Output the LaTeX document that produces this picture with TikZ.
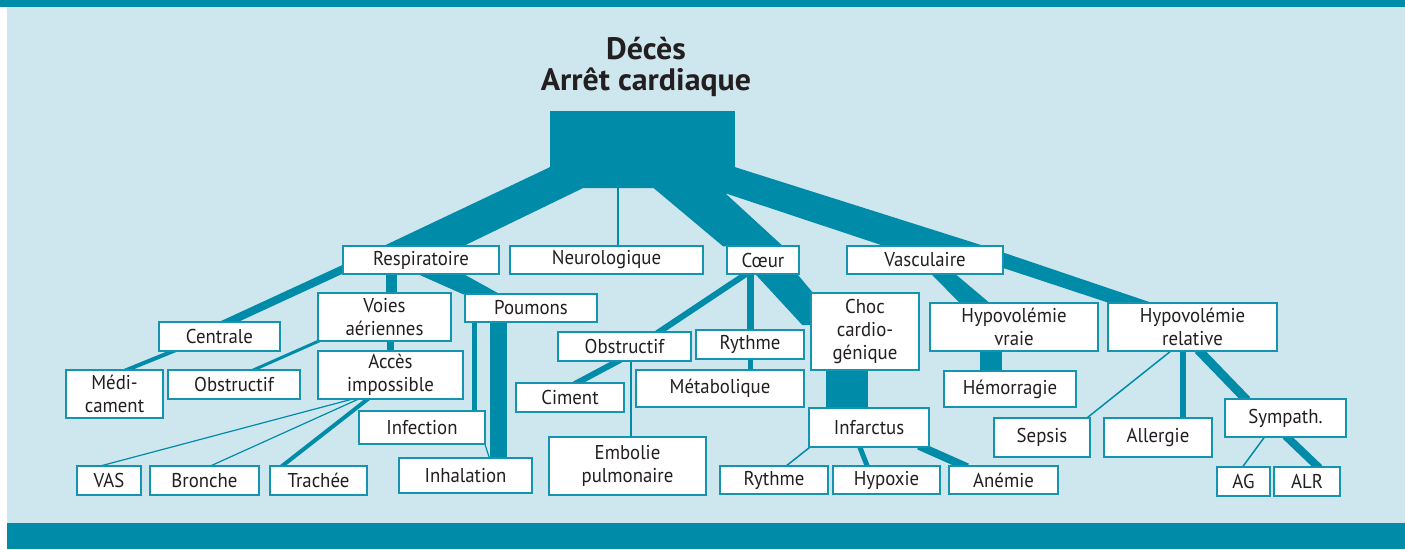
\documentclass[tikz,border=0pt]{standalone}
\usepackage{fontspec}
\setmainfont{PT Sans}[FakeStretch=0.94]
\newfontfamily\titlefont{PT Sans}[FakeStretch=1.03]
\definecolor{tl}{RGB}{0,139,168}
\definecolor{lightbg}{RGB}{206,230,238}
\definecolor{boxc}{RGB}{20,148,176}
\definecolor{textc}{RGB}{35,31,32}
\pgfdeclarelayer{back}\pgfdeclarelayer{bg}
\pgfsetlayers{back,bg,main}
\tikzset{
  box/.style={draw=boxc,line width=1.5pt,fill=white,inner sep=0pt,align=center,text=textc,font=\fontsize{20}{23}\selectfont},
  ln/.style={draw=tl,line width=#1},
  band/.style={fill=tl},
  ttl/.style={align=center,text=textc,font=\titlefont\bfseries\fontsize{31}{31}\selectfont,inner sep=0pt}
}
\newcommand\bx[6]{\node[box,minimum width={(#4-#2)*1pt},minimum height={(#5-#3)*1pt}] (#1) at ({(#2+#4)/2},{(#3+#5)/2}) {#6};}
\begin{document}
\begin{tikzpicture}[x=1pt,y=-1pt]
\useasboundingbox (0,0) rectangle (1405,549);
\begin{pgfonlayer}{back}
\fill[white] (0,0) rectangle (1405,549);
\fill[lightbg] (7,7) rectangle (1405,523);
\fill[tl] (0,0) rectangle (1405,7);
\fill[tl] (7,523) rectangle (1405,549);
\end{pgfonlayer}
% title
\node[ttl] (title) at (646,67) {Décès\\Arrêt cardiaque};
% root block
\node[fill=tl,inner sep=0pt,minimum width=185pt,minimum height=77pt] (root) at (642.5,149.5) {};
% boxes
\bx{resp}{343}{246}{499}{274}{Respiratoire}
\bx{neuro}{510}{246}{703}{274}{Neurologique}
\bx{coeur}{727}{246}{799}{274}{Cœur}
\bx{vasc}{847}{246}{1003}{274}{Vasculaire}
\bx{centrale}{159}{322}{280}{351}{Centrale}
\bx{voies}{318}{293}{451}{341}{Voies\\aériennes}
\bx{poumons}{465}{294}{597}{322}{Poumons}
\bx{medic}{66}{370}{163}{418}{Médi-\\cament}
\bx{obsL}{168}{370}{300}{399}{Obstructif}
\bx{acces}{318}{351}{463}{399}{Accès\\impossible}
\bx{infection}{359}{411}{485}{444}{Infection}
\bx{inhal}{399}{458}{532}{493}{Inhalation}
\bx{vas}{77}{466}{141}{495}{VAS}
\bx{bronche}{150}{466}{259}{495}{Bronche}
\bx{trachee}{270}{466}{367}{495}{Trachée}
\bx{obsC}{558}{332}{691}{361}{Obstructif}
\bx{rythme1}{696}{330}{804}{359}{Rythme}
\bx{metab}{636}{370}{804}{407}{Métabolique}
\bx{ciment}{516}{383}{624}{412}{Ciment}
\bx{embolie}{549}{437}{706}{495}{Embolie\\pulmonaire}
\bx{choc}{811}{293}{919}{370}{Choc\\cardio-\\génique}
\bx{infarctus}{809}{408}{929}{447}{Infarctus}
\bx{rythme2}{720}{466}{828}{494}{Rythme}
\bx{hypoxie}{833}{466}{940}{494}{Hypoxie}
\bx{anemie}{949}{466}{1058}{494}{Anémie}
\bx{hvraie}{930}{303}{1098}{351}{Hypovolémie\\vraie}
\bx{hemo}{944}{371}{1076}{407}{Hémorragie}
\bx{sepsis}{994}{418}{1090}{457}{Sepsis}
\bx{hrel}{1108}{303}{1277}{351}{Hypovolémie\\relative}
\bx{allergie}{1104}{418}{1212}{457}{Allergie}
\bx{sympath}{1225}{399}{1346}{437}{Sympath.}
\bx{ag}{1217}{467}{1270}{496}{AG}
\bx{alr}{1274}{467}{1340}{496}{ALR}
\begin{pgfonlayer}{bg}
% main fan from root
\fill[band] ([shift={(0,-21)}]root.south west)
  -- ([shift={(-38,1)}]resp.north) -- ([shift={(42,1)}]resp.north)
  -- ([shift={(33,0)}]root.south west) -- ([shift={(104,0)}]root.south west)
  -- ([shift={(-40,1)}]coeur.north) -- ([shift={(20,1)}]coeur.north)
  -- ([shift={(-10,5)}]root.south east)
  -- ([shift={(-40,1)}]vasc.north) -- ([shift={(60,1)}]vasc.north)
  -- ([shift={(0,-21)}]root.south east) -- cycle;
\draw[ln=2pt] ([shift={(-24.5,-2)}]root.south) -- ([shift={(11.5,1)}]neuro.north);
% respiratoire
\draw[ln=8pt] ([shift={(7.6,6)}]resp.west) -- ([shift={(1.9,4)}]centrale.north);
\draw[ln=4pt] ([shift={(-40.6,-3)}]centrale.south) -- ([shift={(6.6,3)}]medic.north);
\draw[ln=11pt] ([shift={(-29.5,-2)}]resp.south) -- ([shift={(7,2)}]voies.north);
\draw[ln=3pt] ([shift={(4.5,-2)}]voies.south west) -- ([shift={(16.5,2)}]obsL.north);
\draw[ln=7pt] ([shift={(6,-2)}]voies.south) -- ([shift={(0,2)}]acces.north);
\draw[ln=1.2pt] ([shift={(-36.8,-1)}]acces.south) -- ([shift={(-9.7,1)}]vas.north);
\draw[ln=1.2pt] ([shift={(-31.3,-1)}]acces.south) -- ([shift={(5.3,1)}]bronche.north);
\draw[ln=4pt] ([shift={(-21,-2)}]acces.south) -- ([shift={(-38,2)}]trachee.north);
\fill[band] ([shift={(-4,-1)}]resp.south) -- ([shift={(42,-1)}]resp.south)
  -- ([shift={(-31,1)}]poumons.north) -- ([shift={(-68,1)}]poumons.north) -- cycle;
\draw[ln=5pt] ([shift={(-56.5,-2)}]poumons.south) -- ([shift={(52.5,2)}]infection.north);
\draw[ln=17pt] ([shift={(-32.5,-2)}]poumons.south) -- ([shift={(33,2)}]inhal.north);
\draw[ln=1.2pt] ([shift={(-1,-1)}]infection.south east) -- ([shift={(24,1)}]inhal.north);
% coeur
\draw[ln=6pt] ([shift={(-15.1,-2)}]coeur.south) -- ([shift={(32.6,2)}]obsC.north);
\draw[ln=7pt] ([shift={(-12.5,-2)}]coeur.south) -- ([shift={(0.5,2)}]rythme1.north);
\fill[band] ([shift={(-8,-1)}]coeur.south) -- ([shift={(34,-1)}]coeur.south)
  -- ([shift={(2,-39.5)}]choc.west) -- ([shift={(2,-6.5)}]choc.west)
  -- ([shift={(-8,-6.5)}]choc.west) -- cycle;
\draw[ln=5pt] ([shift={(0.5,-2)}]rythme1.south) -- ([shift={(30.5,2)}]metab.north);
\draw[ln=6pt] ([shift={(-4,-2)}]obsC.south) -- ([shift={(4.5,2)}]ciment.north);
\draw[ln=1.5pt] ([shift={(6.5,-1)}]obsC.south) -- ([shift={(3.5,1)}]embolie.north);
\draw[ln=42pt] ([shift={(-18,-2)}]choc.south) -- ([shift={(-22,2)}]infarctus.north);
\draw[ln=1.5pt] ([shift={(2.2,-1)}]infarctus.south west) -- ([shift={(11.8,1)}]rythme2.north);
\draw[ln=5pt] ([shift={(-9.7,-2)}]infarctus.south) -- ([shift={(-18.8,2)}]hypoxie.north);
\draw[ln=8pt] ([shift={(49.8,-2)}]infarctus.south) -- ([shift={(-36.3,2)}]anemie.north);
% vasculaire
\fill[band] ([shift={(6,-1)}]vasc.south) -- ([shift={(30,-1)}]vasc.south)
  -- ([shift={(-24,1)}]hvraie.north) -- ([shift={(-54,1)}]hvraie.north) -- cycle;
\draw[ln=22pt] ([shift={(-23,-2)}]hvraie.south) -- ([shift={(-19,2)}]hemo.north);
\fill[band] ([shift={(-8,-10)}]vasc.east) -- ([shift={(-39.5,1)}]hrel.north)
  -- ([shift={(-82.5,1)}]hrel.north) -- ([shift={(-8,5.5)}]vasc.east) -- cycle;
\draw[ln=1.5pt] ([shift={(-21.3,-1)}]hrel.south) -- ([shift={(-4.2,1)}]sepsis.north east);
\draw[ln=6pt] ([shift={(-9.5,-2)}]hrel.south) -- ([shift={(25,2)}]allergie.north);
\draw[ln=9pt] ([shift={(5.6,-2)}]hrel.south) -- ([shift={(-38.6,2)}]sympath.north);
\draw[ln=1.5pt] ([shift={(-20.8,-1)}]sympath.south) -- ([shift={(-1.2,1)}]ag.north);
\draw[ln=8pt] ([shift={(0,-2)}]sympath.south) -- ([shift={(12.5,2)}]alr.north);
\end{pgfonlayer}
\end{tikzpicture}
\end{document}
